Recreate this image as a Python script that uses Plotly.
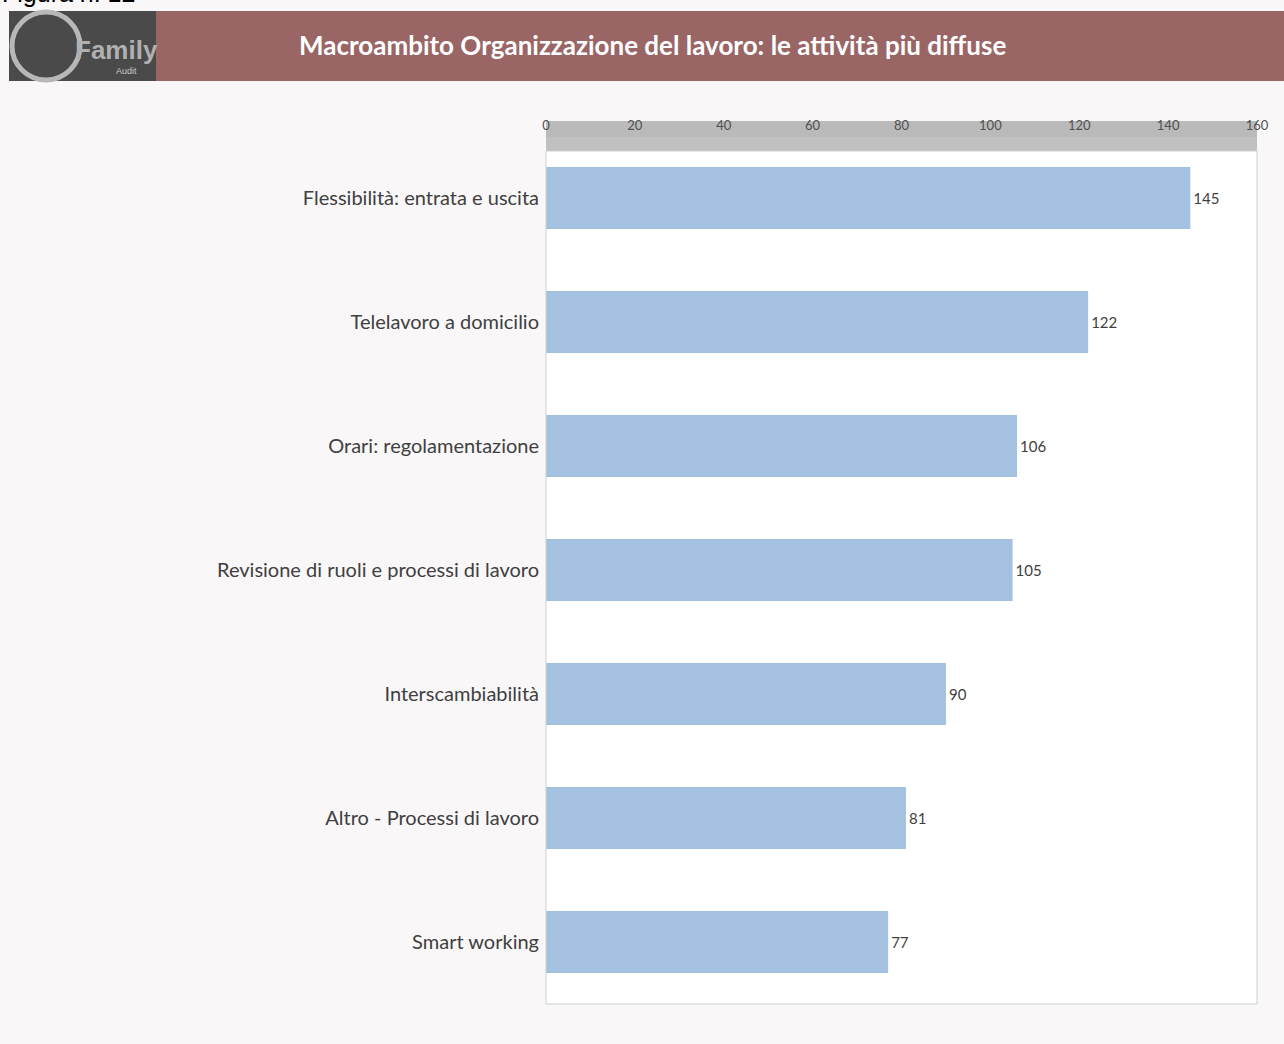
import plotly.graph_objects as go

categories = [
    "Flessibilità: entrata e uscita",
    "Telelavoro a domicilio",
    "Orari: regolamentazione",
    "Revisione di ruoli e processi di lavoro",
    "Interscambiabilità",
    "Altro - Processi di lavoro",
    "Smart working",
]
values = [145, 122, 106, 105, 90, 81, 77]
tick_values = [0, 20, 40, 60, 80, 100, 120, 140, 160]

W, H = 1284, 1044
L, R, T, B = 546, 1257, 136, 1004


def px(x):
    return (x - L) / (R - L)


def py(y):
    return (B - y) / (B - T)


fig = go.Figure(
    go.Bar(
        x=values,
        y=categories,
        orientation="h",
        marker=dict(color="#a4c2e0", line=dict(width=0)),
        text=[str(v) for v in values],
        textposition="outside",
        textfont=dict(family="Lato, Open Sans, sans-serif", size=15, color="#404040"),
        cliponaxis=False,
        width=0.5,
    )
)

shapes = [
    # header band
    dict(type="rect", xref="paper", yref="paper", x0=px(9), x1=px(1284), y0=py(81), y1=py(11),
         fillcolor="#996565", line=dict(width=0), layer="below"),
    # logo block
    dict(type="rect", xref="paper", yref="paper", x0=px(9), x1=px(156), y0=py(81), y1=py(11),
         fillcolor="#4a4a4a", line=dict(width=0), layer="below"),
    dict(type="circle", xref="paper", yref="paper", x0=px(12), x1=px(80), y0=py(80), y1=py(12),
         fillcolor="rgba(0,0,0,0)", line=dict(color="#b8b8b8", width=5)),
    # white plot panel
    dict(type="rect", xref="paper", yref="paper", x0=0, x1=1, y0=0, y1=py(151),
         fillcolor="#ffffff", line=dict(width=0), layer="below"),
    # grey axis band above the plot
    dict(type="rect", xref="paper", yref="paper", x0=0, x1=1, y0=py(137), y1=py(121),
         fillcolor="#bababa", line=dict(width=0), layer="below"),
    dict(type="rect", xref="paper", yref="paper", x0=0, x1=1, y0=py(151), y1=py(137),
         fillcolor="#c0c0c0", line=dict(width=0), layer="below"),
    # plot frame
    dict(type="rect", xref="paper", yref="paper", x0=0, x1=1, y0=0, y1=py(151),
         fillcolor="rgba(0,0,0,0)", line=dict(color="#d0d0d0", width=1)),
]

annotations = [
    dict(text="Macroambito Organizzazione del lavoro: le attività più diffuse",
         xref="paper", yref="paper", x=px(652), y=py(45), xanchor="center", yanchor="middle",
         showarrow=False, font=dict(family="Lato, Open Sans, sans-serif", size=26, color="white",
                                    weight="bold")),
    dict(text="Figura n. 12", xref="paper", yref="paper", x=px(0), y=py(9),
         xanchor="left", yanchor="bottom", showarrow=False,
         font=dict(family="Liberation Sans, Arial, sans-serif", size=25, color="#000000")),
    dict(text="<b>Family</b>", xref="paper", yref="paper", x=px(116), y=py(50),
         xanchor="center", yanchor="middle", showarrow=False,
         font=dict(family="Liberation Sans, Arial, sans-serif", size=26, color="#b0b0b0")),
    dict(text="Audit", xref="paper", yref="paper", x=px(126), y=py(71),
         xanchor="center", yanchor="middle", showarrow=False,
         font=dict(family="Liberation Sans, Arial, sans-serif", size=9, color="#c8c8c8")),
]

fig.update_layout(
    width=W,
    height=H,
    margin=dict(l=L, r=W - R, t=T, b=H - B, pad=0),
    paper_bgcolor="#f9f7f8",
    plot_bgcolor="#ffffff",
    showlegend=False,
    shapes=shapes,
    annotations=annotations,
    xaxis=dict(
        range=[0, 160],
        side="top",
        tickvals=tick_values,
        ticktext=[str(v) for v in tick_values],
        showgrid=False,
        zeroline=False,
        showline=False,
        ticks="",
        ticklabelstandoff=2,
        tickfont=dict(family="Lato, Open Sans, sans-serif", size=13, color="#505050"),
    ),
    yaxis=dict(
        categoryorder="array",
        categoryarray=categories[::-1],
        showgrid=False,
        zeroline=False,
        showline=False,
        ticks="",
        ticklabelstandoff=6,
        tickfont=dict(family="Lato, Open Sans, sans-serif", size=20, color="#404040"),
    ),
    bargap=0.5,
)

fig.write_html("out.html")
